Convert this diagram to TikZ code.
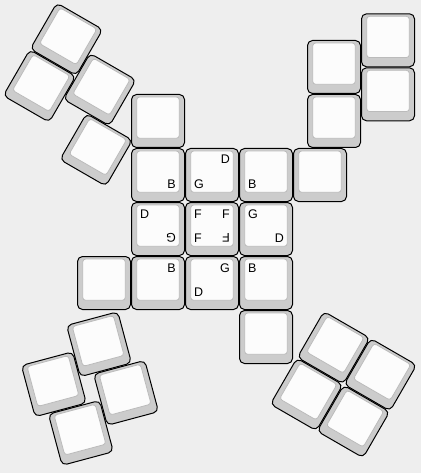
\documentclass[tikz,border=0pt]{standalone}
\usepackage{fontspec}
\setmainfont{Liberation Sans}
\definecolor{bgc}{HTML}{EEEEEE}
\definecolor{capside}{HTML}{CCCCCC}
\definecolor{captop}{HTML}{FCFCFC}
\definecolor{capedge}{HTML}{BBBBBB}
\tikzset{
  keyouter/.style={draw=black, fill=capside, line width=1pt, rounded corners=5pt},
  keyinner/.style={draw=capedge, fill=captop, line width=0.8pt, rounded corners=3pt},
  lg/.style={inner sep=0pt, font=\fontsize{12.5}{14}\selectfont, text=black}
}
% one keycap centred at (#1,#2), legends #3
\newcommand{\kc}[3]{%
  \begin{scope}[shift={(#1,#2)}]
    \path[keyouter] (-26.5,-26.5) rectangle (26.5,26.5);
    \path[keyinner] (-21.3,-24) rectangle (21.3,17.3);
    #3
  \end{scope}}
\newcommand{\lgTL}[2]{\node[lg, anchor=base west] (#1) at (-18,-11) {#2};}
\newcommand{\lgTR}[2]{\node[lg, anchor=base east] (#1) at (18,-11) {#2};}
\newcommand{\lgBL}[2]{\node[lg, anchor=base west] (#1) at (-18,13) {#2};}
\newcommand{\lgBR}[2]{\node[lg, anchor=base east] (#1) at (18,13) {#2};}
\newcommand{\lgFlip}[2]{\node[lg, rotate=180, anchor=north west] (#1) at (18,13.3) {#2};}
\begin{document}
\begin{tikzpicture}[x=1pt, y=-1pt]
  \fill[bgc] (0,0) rectangle (421,473);
  \useasboundingbox (0,0) rectangle (421,473);

  % top-left thumb cluster (rotated 30 deg clockwise)
  \begin{scope}[shift={(66.5,39.2)}, rotate=-30]
    \kc{0}{0}{}
    \kc{0}{54}{}
    \kc{54}{27}{}
    \kc{81}{81}{}
  \end{scope}

  % bottom-left cluster (rotated 15 deg counter-clockwise)
  \begin{scope}[shift={(53.85,384.25)}, rotate=15]
    \kc{0}{0}{}
    \kc{54}{-27}{}
    \kc{67.5}{27}{}
    \kc{13.5}{54}{}
  \end{scope}

  % bottom-right cluster (rotated 30 deg clockwise)
  \begin{scope}[shift={(333.6,347.7)}, rotate=-30]
    \kc{0}{0}{}
    \kc{54}{0}{}
    \kc{0}{54}{}
    \kc{54}{54}{}
  \end{scope}

  % top-right cluster
  \kc{334}{67}{}
  \kc{334}{121}{}
  \kc{388}{40.3}{}
  \kc{388}{94.3}{}

  % main grid
  \kc{158}{121}{}
  \kc{158}{175}{\lgBR{aB}{B}}
  \kc{212}{175}{\lgTR{bD}{D}\lgBL{bG}{G}}
  \kc{266}{175}{\lgBL{cB}{B}}
  \kc{320}{175}{}
  \kc{158}{229}{\lgTL{dD}{D}\lgFlip{dG}{G}}
  \kc{212}{229}{\lgTL{eF1}{F}\lgTR{eF2}{F}\lgBL{eF3}{F}\lgFlip{eF4}{F}}
  \kc{266}{229}{\lgTL{fG}{G}\lgBR{fD}{D}}
  \kc{104}{283}{}
  \kc{158}{283}{\lgTR{gB}{B}}
  \kc{212}{283}{\lgTR{hG}{G}\lgBL{hD}{D}}
  \kc{266}{283}{\lgTL{iB}{B}}
  \kc{266}{337}{}
\end{tikzpicture}
\end{document}
